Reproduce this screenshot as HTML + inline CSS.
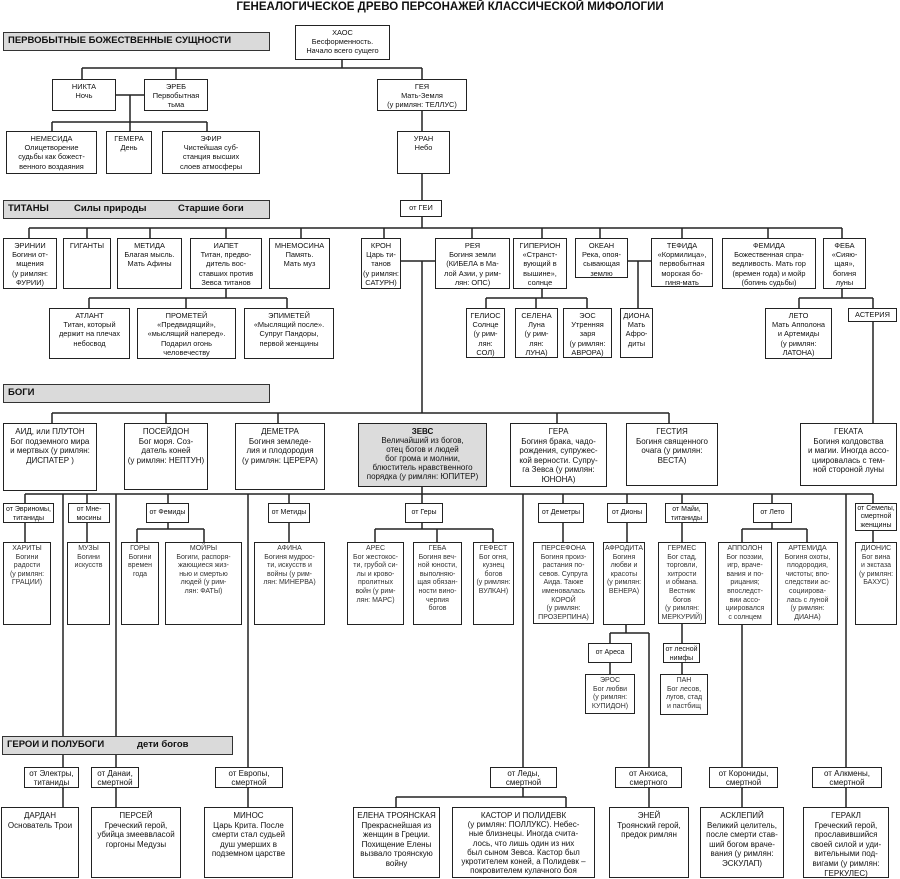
<!DOCTYPE html>
<html><head><meta charset="utf-8"><style>
body{margin:0;width:900px;height:879px;background:#fff;position:relative;overflow:hidden;font-family:"Liberation Sans",Arial,sans-serif;color:#111}
svg{position:absolute;left:0;top:0}
.b{position:absolute;box-sizing:border-box;border:1.5px solid #222;background:#fff;text-align:center;font-size:7.4px;line-height:9.2px;padding-top:2px;white-space:nowrap}
.m{font-size:8px;line-height:9.6px;padding-top:3px}
.s{font-size:7px;line-height:8.6px;color:#333}
.f{font-size:7px;line-height:9px;padding-top:1px}
.bar{position:absolute;box-sizing:border-box;border:1.5px solid #333;background:#dadada;font-weight:bold;font-size:9.5px;line-height:16px;padding-left:4px;white-space:nowrap}
.bar span{position:absolute;top:0}
.t{position:absolute;top:1px;left:0;width:900px;text-align:center;font-weight:bold;font-size:11.5px}
</style></head><body>
<div class="t">ГЕНЕАЛОГИЧЕСКОЕ ДРЕВО ПЕРСОНАЖЕЙ КЛАССИЧЕСКОЙ МИФОЛОГИИ</div>
<svg width="900" height="879" stroke="#222" stroke-width="1.5" fill="none">
<path d="M342 60V68M82 68H422M82 68V79M176 68V79M422 68V79
M116 95H144M130 95V122M52 122H207M52 122V131M130 122V131M207 122V131
M422 111V131M422 174V200M422 217V228
M29 228H842M29 228V238M87 228V238M150 228V238M226 228V238M301 228V238M384 228V238M472 228V238M542 228V238M600 228V238M682 228V238M768 228V238M842 228V238
M401 261H435M422 261V413
M226 289V298M89 298H287M89 298V308M186 298V308M287 298V308
M542 289V298M486 298H587M486 298V308M536 298V308M587 298V308
M628 261H651M638 261V308
M842 289V298M799 298H873M799 298V308M873 298V308M873 322V423
M52 413H669M52 413V423M166 413V423M278 413V423M557 413V423M669 413V423
M422 487V494M25 494H873
M25 494V503M87 494V503M168 494V503M289 494V503M422 494V503M563 494V503M627 494V503M682 494V503M772 494V503M873 494V503
M63 494V767M116 494V767M248 494V767M523 494V767M846 494V767
M25 523V542M87 523V542M289 523V542M563 523V542M627 523V542M682 523V542M873 530V542
M168 523V529M137 529H204M137 529V542M204 529V542
M422 523V529M375 529H493M375 529V542M437 529V542M493 529V542
M772 523V529M742 529H807M742 529V542M807 529V542
M626 625V633M610 633H649M610 633V643M610 663V674M649 633V767
M682 624V643M682 663V674M742 625V767
M63 788V807M116 788V807M248 788V807M649 788V807M742 788V807M846 788V807
M523 788V797M396 797H566M396 797V807M566 797V807"/>
</svg>

<div class="bar" style="left:3px;top:32px;width:267px;height:19px">ПЕРВОБЫТНЫЕ БОЖЕСТВЕННЫЕ СУЩНОСТИ</div>
<div class="bar" style="left:3px;top:200px;width:267px;height:19px"><span style="left:4px">ТИТАНЫ</span><span style="left:70px">Силы природы</span><span style="left:174px">Старшие боги</span></div>
<div class="bar" style="left:3px;top:384px;width:267px;height:19px">БОГИ</div>
<div class="bar" style="left:2px;top:736px;width:231px;height:19px"><span style="left:4px">ГЕРОИ И ПОЛУБОГИ</span><span style="left:134px">дети богов</span></div>

<div class="b" style="left:295px;top:25px;width:95px;height:35px">ХАОС<br>Бесформенность.<br>Начало всего сущего</div>
<div class="b" style="left:52px;top:79px;width:64px;height:32px">НИКТА<br>Ночь</div>
<div class="b" style="left:144px;top:79px;width:64px;height:32px">ЭРЕБ<br>Первобытная<br>тьма</div>
<div class="b" style="left:377px;top:79px;width:90px;height:32px">ГЕЯ<br>Мать-Земля<br>(у римлян: ТЕЛЛУС)</div>
<div class="b" style="left:6px;top:131px;width:91px;height:43px">НЕМЕСИДА<br>Олицетворение<br>судьбы как божест-<br>венного воздаяния</div>
<div class="b" style="left:106px;top:131px;width:46px;height:43px">ГЕМЕРА<br>День</div>
<div class="b" style="left:162px;top:131px;width:98px;height:43px">ЭФИР<br>Чистейшая суб-<br>станция высших<br>слоев атмосферы</div>
<div class="b" style="left:397px;top:131px;width:53px;height:43px">УРАН<br>Небо</div>
<div class="b" style="left:400px;top:200px;width:42px;height:17px">от ГЕИ</div>

<div class="b" style="left:3px;top:238px;width:54px;height:51px">ЭРИНИИ<br>Богини от-<br>мщения<br>(у римлян:<br>ФУРИИ)</div>
<div class="b" style="left:63px;top:238px;width:48px;height:51px">ГИГАНТЫ</div>
<div class="b" style="left:117px;top:238px;width:65px;height:51px">МЕТИДА<br>Благая мысль.<br>Мать Афины</div>
<div class="b" style="left:190px;top:238px;width:72px;height:51px">ИАПЕТ<br>Титан, предво-<br>дитель вос-<br>ставших против<br>Зевса титанов</div>
<div class="b" style="left:269px;top:238px;width:61px;height:51px">МНЕМОСИНА<br>Память.<br>Мать муз</div>
<div class="b" style="left:361px;top:238px;width:40px;height:51px">КРОН<br>Царь ти-<br>танов<br>(у римлян:<br>САТУРН)</div>
<div class="b" style="left:435px;top:238px;width:75px;height:51px">РЕЯ<br>Богиня земли<br>(КИБЕЛА в Ма-<br>лой Азии, у рим-<br>лян: ОПС)</div>
<div class="b" style="left:513px;top:238px;width:54px;height:51px">ГИПЕРИОН<br>«Странст-<br>вующий в<br>вышине»,<br>солнце</div>
<div class="b" style="left:575px;top:238px;width:53px;height:40px">ОКЕАН<br>Река, опоя-<br>сывающая<br>землю</div>
<div class="b" style="left:651px;top:238px;width:62px;height:49px">ТЕФИДА<br>«Кормилица»,<br>первобытная<br>морская бо-<br>гиня-мать</div>
<div class="b" style="left:722px;top:238px;width:94px;height:51px">ФЕМИДА<br>Божественная спра-<br>ведливость. Мать гор<br>(времен года) и мойр<br>(богинь судьбы)</div>
<div class="b" style="left:823px;top:238px;width:43px;height:51px">ФЕБА<br>«Сияю-<br>щая»,<br>богиня<br>луны</div>

<div class="b" style="left:49px;top:308px;width:81px;height:51px">АТЛАНТ<br>Титан, который<br>держит на плечах<br>небосвод</div>
<div class="b" style="left:137px;top:308px;width:99px;height:51px">ПРОМЕТЕЙ<br>«Предвидящий»,<br>«мыслящий наперед».<br>Подарил огонь<br>человечеству</div>
<div class="b" style="left:244px;top:308px;width:90px;height:51px">ЭПИМЕТЕЙ<br>«Мыслящий после».<br>Супруг Пандоры,<br>первой женщины</div>
<div class="b" style="left:466px;top:308px;width:39px;height:50px">ГЕЛИОС<br>Солнце<br>(у рим-<br>лян:<br>СОЛ)</div>
<div class="b" style="left:515px;top:308px;width:43px;height:50px">СЕЛЕНА<br>Луна<br>(у рим-<br>лян:<br>ЛУНА)</div>
<div class="b" style="left:563px;top:308px;width:49px;height:50px">ЭОС<br>Утренняя<br>заря<br>(у римлян:<br>АВРОРА)</div>
<div class="b" style="left:620px;top:308px;width:33px;height:50px">ДИОНА<br>Мать<br>Афро-<br>диты</div>
<div class="b" style="left:765px;top:308px;width:67px;height:51px">ЛЕТО<br>Мать Апполона<br>и Артемиды<br>(у римлян:<br>ЛАТОНА)</div>
<div class="b" style="left:848px;top:308px;width:49px;height:14px;padding-top:1px">АСТЕРИЯ</div>

<div class="b m" style="left:3px;top:423px;width:94px;height:68px">АИД, или ПЛУТОН<br>Бог подземного мира<br>и мертвых (у римлян:<br>ДИСПАТЕР )</div>
<div class="b m" style="left:124px;top:423px;width:84px;height:67px">ПОСЕЙДОН<br>Бог моря. Соз-<br>датель коней<br>(у римлян: НЕПТУН)</div>
<div class="b m" style="left:235px;top:423px;width:90px;height:67px">ДЕМЕТРА<br>Богиня земледе-<br>лия и плодородия<br>(у римлян: ЦЕРЕРА)</div>
<div class="b m" style="left:358px;top:423px;width:129px;height:64px;background:#dcdcdc;line-height:9px"><b>ЗЕВС</b><br>Величайший из богов,<br>отец богов и людей<br>бог грома и молнии,<br>блюститель нравственного<br>порядка (у римлян: ЮПИТЕР)</div>
<div class="b m" style="left:510px;top:423px;width:97px;height:64px">ГЕРА<br>Богиня брака, чадо-<br>рождения, супружес-<br>кой верности. Супру-<br>га Зевса (у римлян:<br>ЮНОНА)</div>
<div class="b m" style="left:626px;top:423px;width:92px;height:63px">ГЕСТИЯ<br>Богиня священного<br>очага (у римлян:<br>ВЕСТА)</div>
<div class="b m" style="left:800px;top:423px;width:97px;height:63px">ГЕКАТА<br>Богиня колдовства<br>и магии. Иногда ассо-<br>циировалась с тем-<br>ной стороной луны</div>

<div class="b f" style="left:3px;top:503px;width:51px;height:20px">от Эвриномы,<br>титаниды</div>
<div class="b f" style="left:68px;top:503px;width:42px;height:20px">от Мне-<br>мосины</div>
<div class="b f" style="left:146px;top:503px;width:43px;height:20px;line-height:16px">от Фемиды</div>
<div class="b f" style="left:268px;top:503px;width:42px;height:20px;line-height:16px">от Метиды</div>
<div class="b f" style="left:405px;top:503px;width:38px;height:20px;line-height:16px">от Геры</div>
<div class="b f" style="left:538px;top:503px;width:46px;height:20px;line-height:16px">от Деметры</div>
<div class="b f" style="left:607px;top:503px;width:40px;height:20px;line-height:16px">от Дионы</div>
<div class="b f" style="left:665px;top:503px;width:43px;height:20px">от Майи,<br>титаниды</div>
<div class="b f" style="left:753px;top:503px;width:39px;height:20px;line-height:16px">от Лето</div>
<div class="b f" style="left:855px;top:503px;width:42px;height:28px;line-height:8.4px">от Семелы,<br>смертной<br>женщины</div>

<div class="b s" style="left:3px;top:542px;width:48px;height:83px">ХАРИТЫ<br>Богини<br>радости<br>(у римлян:<br>ГРАЦИИ)</div>
<div class="b s" style="left:67px;top:542px;width:43px;height:83px">МУЗЫ<br>Богини<br>искусств</div>
<div class="b s" style="left:121px;top:542px;width:38px;height:83px">ГОРЫ<br>Богини<br>времен<br>года</div>
<div class="b s" style="left:165px;top:542px;width:77px;height:83px">МОЙРЫ<br>Богиги, распоря-<br>жающиеся жиз-<br>нью и смертью<br>людей (у рим-<br>лян: ФАТЫ)</div>
<div class="b s" style="left:254px;top:542px;width:71px;height:83px">АФИНА<br>Богиня мудрос-<br>ти, искусств и<br>войны (у рим-<br>лян: МИНЕРВА)</div>
<div class="b s" style="left:347px;top:542px;width:57px;height:83px">АРЕС<br>Бог жестокос-<br>ти, грубой си-<br>лы и крово-<br>пролитных<br>войн (у рим-<br>лян: МАРС)</div>
<div class="b s" style="left:413px;top:542px;width:49px;height:83px">ГЕБА<br>Богиня веч-<br>ной юности,<br>выполняю-<br>щая обязан-<br>ности вино-<br>черпия<br>богов</div>
<div class="b s" style="left:473px;top:542px;width:41px;height:83px">ГЕФЕСТ<br>Бог огня,<br>кузнец<br>богов<br>(у римлян:<br>ВУЛКАН)</div>
<div class="b s" style="left:533px;top:542px;width:61px;height:82px">ПЕРСЕФОНА<br>Богиня произ-<br>растания по-<br>севов. Супруга<br>Аида. Также<br>именовалась<br>КОРОЙ<br>(у римлян:<br>ПРОЗЕРПИНА)</div>
<div class="b s" style="left:603px;top:542px;width:42px;height:83px">АФРОДИТА<br>Богиня<br>любви и<br>красоты<br>(у римлян:<br>ВЕНЕРА)</div>
<div class="b s" style="left:658px;top:542px;width:48px;height:82px">ГЕРМЕС<br>Бог стад,<br>торговли,<br>хитрости<br>и обмана.<br>Вестник<br>богов<br>(у римлян:<br>МЕРКУРИЙ)</div>
<div class="b s" style="left:718px;top:542px;width:54px;height:83px">АППОЛОН<br>Бог поэзии,<br>игр, враче-<br>вания и по-<br>рицания;<br>впоследст-<br>вии ассо-<br>циировался<br>с солнцем</div>
<div class="b s" style="left:777px;top:542px;width:61px;height:83px">АРТЕМИДА<br>Богиня охоты,<br>плодородия,<br>чистоты; впо-<br>следствии ас-<br>социирова-<br>лась с луной<br>(у римлян:<br>ДИАНА)</div>
<div class="b s" style="left:855px;top:542px;width:42px;height:83px">ДИОНИС<br>Бог вина<br>и экстаза<br>(у римлян:<br>БАХУС)</div>

<div class="b f" style="left:588px;top:643px;width:44px;height:20px;line-height:16px">от Ареса</div>
<div class="b f" style="left:663px;top:643px;width:37px;height:20px">от лесной<br>нимфы</div>
<div class="b s" style="left:585px;top:674px;width:50px;height:40px">ЭРОС<br>Бог любви<br>(у римлян:<br>КУПИДОН)</div>
<div class="b s" style="left:660px;top:674px;width:48px;height:41px">ПАН<br>Бог лесов,<br>лугов, стад<br>и пастбищ</div>

<div class="b m" style="left:24px;top:767px;width:55px;height:21px;padding-top:1px;line-height:9px">от Электры,<br>титаниды</div>
<div class="b m" style="left:91px;top:767px;width:48px;height:21px;padding-top:1px;line-height:9px">от Данаи,<br>смертной</div>
<div class="b m" style="left:215px;top:767px;width:68px;height:21px;padding-top:1px;line-height:9px">от Европы,<br>смертной</div>
<div class="b m" style="left:490px;top:767px;width:67px;height:21px;padding-top:1px;line-height:9px">от Леды,<br>смертной</div>
<div class="b m" style="left:615px;top:767px;width:67px;height:21px;padding-top:1px;line-height:9px">от Анхиса,<br>смертного</div>
<div class="b m" style="left:709px;top:767px;width:69px;height:21px;padding-top:1px;line-height:9px">от Корониды,<br>смертной</div>
<div class="b m" style="left:812px;top:767px;width:70px;height:21px;padding-top:1px;line-height:9px">от Алкмены,<br>смертной</div>

<div class="b m" style="left:1px;top:807px;width:78px;height:71px">ДАРДАН<br>Основатель Трои</div>
<div class="b m" style="left:91px;top:807px;width:90px;height:71px">ПЕРСЕЙ<br>Греческий герой,<br>убийца змееввласой<br>горгоны Медузы</div>
<div class="b m" style="left:204px;top:807px;width:89px;height:71px">МИНОС<br>Царь Крита. После<br>смерти стал судьей<br>душ умерших в<br>подземном царстве</div>
<div class="b m" style="left:353px;top:807px;width:87px;height:71px">ЕЛЕНА ТРОЯНСКАЯ<br>Прекраснейшая из<br>женщин в Греции.<br>Похищение Елены<br>вызвало троянскую<br>войну</div>
<div class="b m" style="left:452px;top:807px;width:143px;height:71px;line-height:9.2px">КАСТОР И ПОЛИДЕВК<br>(у римлян: ПОЛЛУКС). Небес-<br>ные близнецы. Иногда счита-<br>лось, что лишь один из них<br>был сыном Зевса. Кастор был<br>укротителем коней, а Полидевк –<br>покровителем кулачного боя</div>
<div class="b m" style="left:609px;top:807px;width:80px;height:71px">ЭНЕЙ<br>Троянский герой,<br>предок римлян</div>
<div class="b m" style="left:700px;top:807px;width:84px;height:71px">АСКЛЕПИЙ<br>Великий целитель,<br>после смерти став-<br>ший богом враче-<br>вания (у римлян:<br>ЭСКУЛАП)</div>
<div class="b m" style="left:803px;top:807px;width:86px;height:71px">ГЕРАКЛ<br>Греческий герой,<br>прославившийся<br>своей силой и уди-<br>вительными под-<br>вигами (у римлян:<br>ГЕРКУЛЕС)</div>
</body></html>
